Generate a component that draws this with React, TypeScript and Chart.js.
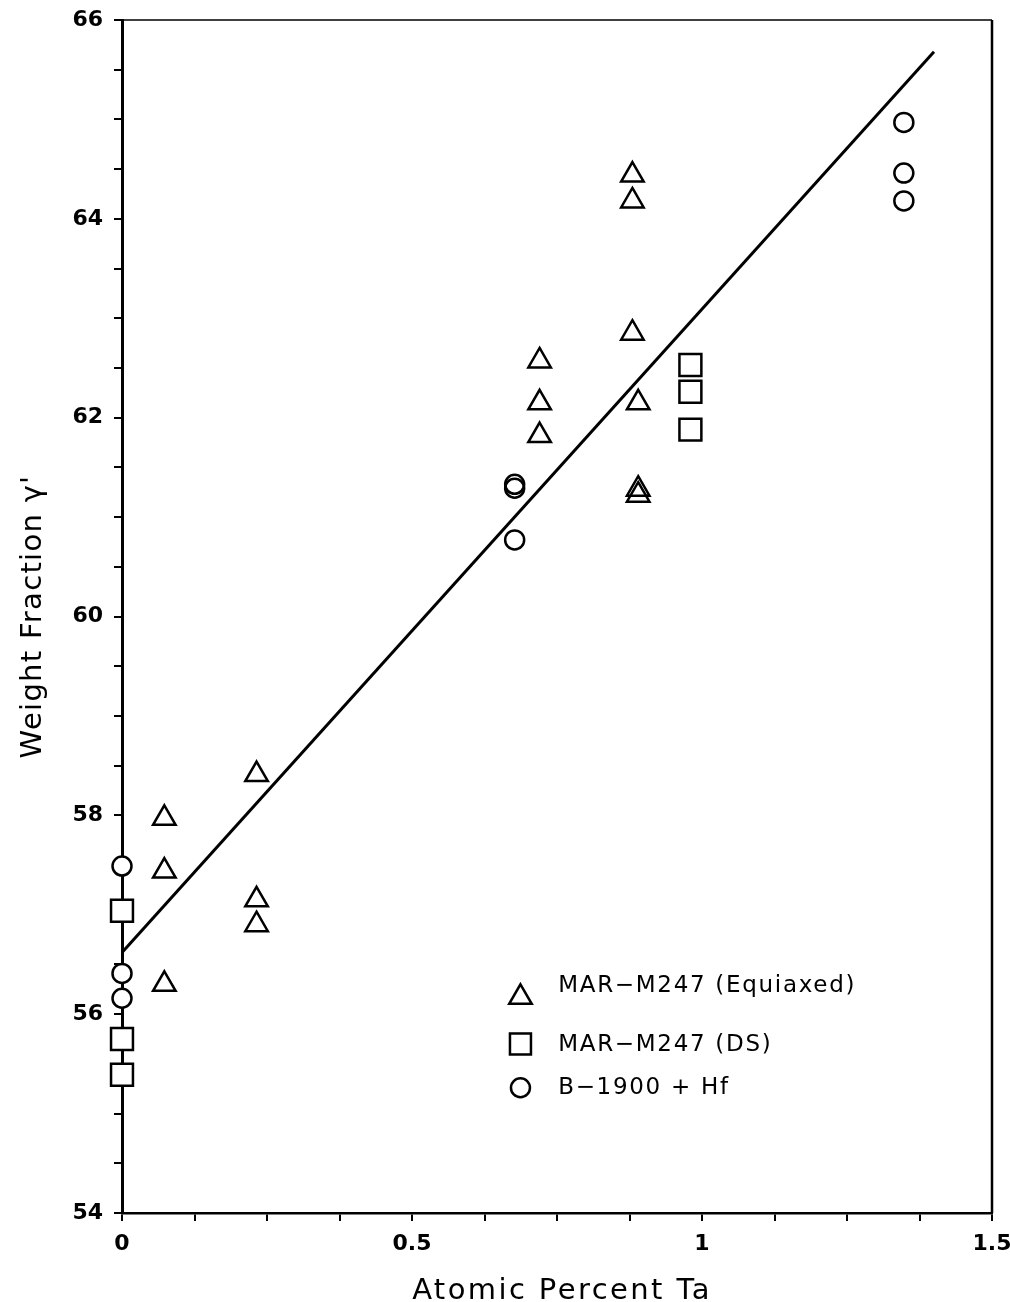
import React, { useEffect, useRef } from "react";
import { Chart, registerables } from "chart.js";

Chart.register(...registerables);

// ---- data ----
const equiaxedX = [0.073, 0.073, 0.073, 0.232, 0.232, 0.232, 0.72, 0.72, 0.72, 0.88, 0.88, 0.88, 0.89, 0.89, 0.89];
const equiaxedY = [57.97, 57.44, 56.3, 58.41, 57.15, 56.9, 62.57, 62.15, 61.82, 64.44, 64.18, 62.85, 62.15, 61.28, 61.22];

const dsX = [0, 0, 0, 0.98, 0.98, 0.98];
const dsY = [57.04, 55.75, 55.39, 62.53, 62.26, 61.88];

const b1900X = [0, 0, 0, 0.677, 0.677, 0.677, 1.348, 1.348, 1.348];
const b1900Y = [57.49, 56.41, 56.16, 61.33, 61.29, 60.77, 64.97, 64.46, 64.18];

const fitX = [0, 1.4];
const fitY = [56.62, 65.68];

const seriesLabels = ["MAR\u2212M247 (Equiaxed)", "MAR\u2212M247 (DS)", "B\u22121900 + Hf"];
const xTickLabels = ["0", "0.5", "1", "1.5"];
const yTickLabels = ["54", "56", "58", "60", "62", "64", "66"];
const xTitle = "Atomic Percent Ta";
const yTitle = "Weight Fraction \u03b3'";

const FONT = "'DejaVu Sans', sans-serif";

const zip = (xs: number[], ys: number[]) => xs.map((x, i) => ({ x, y: ys[i] }));

const markerFill = (ctx: any) => (ctx.raw && ctx.raw.x === 0 ? "#ffffff" : "rgba(0,0,0,0)");

const framePlugin = {
  id: "frame",
  afterDatasetsDraw(chart: any) {
    const { ctx, chartArea } = chart;
    const { left, right, top, bottom } = chartArea;
    ctx.save();
    ctx.strokeStyle = "#000";
    ctx.lineWidth = 1.5;
    ctx.beginPath();
    ctx.moveTo(left, top);
    ctx.lineTo(right, top);
    ctx.stroke();
    ctx.lineWidth = 2.5;
    ctx.beginPath();
    ctx.moveTo(right, top);
    ctx.lineTo(right, bottom);
    ctx.stroke();
    ctx.restore();
  },
};

const titlesPlugin = {
  id: "axisTitles",
  afterDraw(chart: any) {
    const { ctx, chartArea } = chart;
    ctx.save();
    ctx.fillStyle = "#000";
    ctx.font = `29px ${FONT}`;
    ctx.textAlign = "center";
    ctx.textBaseline = "alphabetic";
    (ctx as any).letterSpacing = "2.4px";
    ctx.fillText(xTitle, (chartArea.left + chartArea.right) / 2 + 5, chart.height - 3);
    ctx.translate(41, (chartArea.top + chartArea.bottom) / 2);
    ctx.rotate(-Math.PI / 2);
    (ctx as any).letterSpacing = "1.3px";
    ctx.fillText(yTitle, 0, 0);
    ctx.restore();
  },
};

const legendPlugin = {
  id: "insideLegend",
  afterDraw(chart: any) {
    const { ctx } = chart;
    const xs = chart.scales.x;
    const ys = chart.scales.y;
    const mx = xs.getPixelForValue(0.687);
    const tx = xs.getPixelForValue(0.752);
    const textRows = [ys.getPixelForValue(56.223), ys.getPixelForValue(55.63), ys.getPixelForValue(55.197)];
    const markRows = [ys.getPixelForValue(56.17), ys.getPixelForValue(55.7), ys.getPixelForValue(55.26)];
    ctx.save();
    ctx.strokeStyle = "#000";
    ctx.lineWidth = 2.5;
    // triangle
    {
      const r = 13;
      const cx = mx;
      const cy = markRows[0];
      ctx.beginPath();
      for (let k = 0; k < 3; k++) {
        const a = (k * 2 * Math.PI) / 3;
        const px = cx + Math.sin(a) * r;
        const py = cy - Math.cos(a) * r;
        if (k === 0) ctx.moveTo(px, py);
        else ctx.lineTo(px, py);
      }
      ctx.closePath();
      ctx.stroke();
    }
    // square
    {
      const s = 10.5;
      ctx.strokeRect(mx - s, markRows[1] - s, 2 * s, 2 * s);
    }
    // circle
    {
      ctx.beginPath();
      ctx.arc(mx, markRows[2], 9.5, 0, Math.PI * 2);
      ctx.stroke();
    }
    ctx.fillStyle = "#000";
    ctx.font = `23px ${FONT}`;
    (ctx as any).letterSpacing = "1.7px";
    ctx.textAlign = "left";
    ctx.textBaseline = "alphabetic";
    seriesLabels.forEach((t, i) => ctx.fillText(t, tx, textRows[i]));
    ctx.restore();
  },
};

export default function App() {
  const ref = useRef<HTMLCanvasElement | null>(null);

  useEffect(() => {
    if (!ref.current) return;
    const pointCommon = {
      showLine: false,
      borderColor: "#000",
      backgroundColor: markerFill,
      borderWidth: 2.5,
      clip: false,
    };
    const chart = new Chart(ref.current, {
      type: "scatter",
      data: {
        datasets: [
          {
            label: "fit",
            data: zip(fitX, fitY),
            showLine: true,
            borderColor: "#000",
            borderWidth: 3,
            pointRadius: 0,
            pointHoverRadius: 0,
          } as any,
          { ...pointCommon, label: seriesLabels[0], data: zip(equiaxedX, equiaxedY), pointStyle: "triangle", pointRadius: 13 } as any,
          { ...pointCommon, label: seriesLabels[1], data: zip(dsX, dsY), pointStyle: "rect", pointRadius: 15.5 } as any,
          { ...pointCommon, label: seriesLabels[2], data: zip(b1900X, b1900Y), pointStyle: "circle", pointRadius: 9.5 } as any,
        ],
      },
      options: {
        animation: false,
        responsive: false,
        devicePixelRatio: 1,
        layout: { padding: { top: 20, right: 17, left: 0, bottom: 0 } },
        plugins: { legend: { display: false }, tooltip: { enabled: false } },
        scales: {
          x: {
            type: "linear",
            min: 0,
            max: 1.5,
            afterFit: (s: any) => {
              s.height = 89;
              s.paddingLeft = 0;
              s.paddingRight = 0;
            },
            ticks: {
              stepSize: 0.125,
              autoSkip: false,
              maxRotation: 0,
              padding: 10,
              color: "#000",
              font: { family: FONT, size: 22, weight: "bold" },
              callback: (v: any) => {
                const i = Math.round(Number(v) / 0.5);
                return Math.abs(Number(v) - i * 0.5) < 1e-6 ? xTickLabels[i] : "";
              },
            },
            grid: { drawOnChartArea: false, drawTicks: true, tickLength: 8, color: "#000", lineWidth: 2 },
            border: { display: true, color: "#000", width: 2.5 },
            title: { display: false },
          },
          y: {
            type: "linear",
            min: 54,
            max: 66,
            afterFit: (s: any) => {
              s.width = 122;
              s.paddingTop = 0;
              s.paddingBottom = 0;
            },
            ticks: {
              stepSize: 0.5,
              autoSkip: false,
              padding: 11,
              color: "#000",
              font: { family: FONT, size: 22, weight: "bold" },
              callback: (v: any) => {
                const n = Number(v);
                const i = Math.round((n - 54) / 2);
                return Math.abs(n - (54 + i * 2)) < 1e-6 ? yTickLabels[i] : "";
              },
            },
            grid: { drawOnChartArea: false, drawTicks: true, tickLength: 8, color: "#000", lineWidth: 2 },
            border: { display: true, color: "#000", width: 3 },
            title: { display: false },
          },
        },
      },
      plugins: [framePlugin, titlesPlugin, legendPlugin],
    });
    return () => chart.destroy();
  }, []);

  return (
    <div style={{ position: "absolute", left: 0, top: 0, width: 1010, height: 1302, background: "#fff" }}>
      <canvas ref={ref} width={1010} height={1302} style={{ width: 1010, height: 1302, display: "block" }} />
    </div>
  );
}
